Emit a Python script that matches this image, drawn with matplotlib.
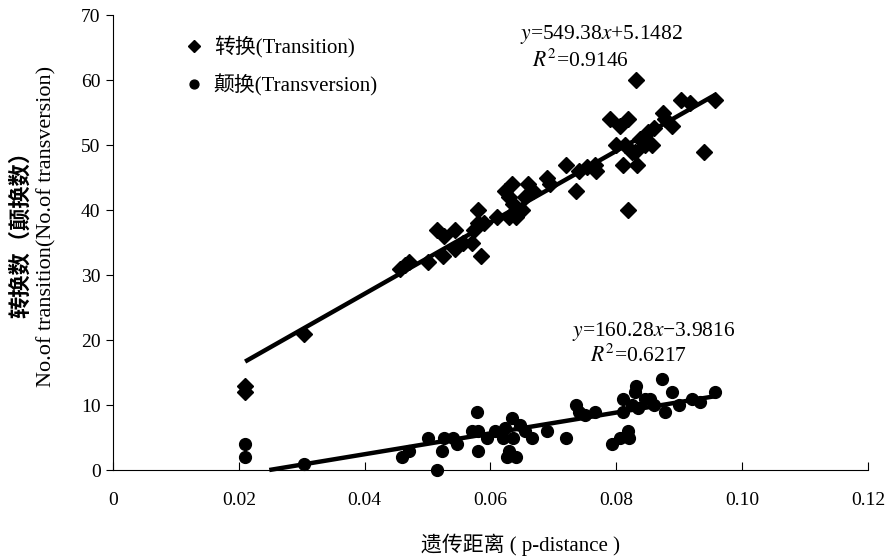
import numpy as np
import matplotlib
matplotlib.use('Agg')
import matplotlib.pyplot as plt

plt.rcParams['font.family'] = ['Liberation Serif', 'Noto Sans CJK SC']
plt.rcParams['mathtext.fontset'] = 'stix'

# transition (diamonds)
ts_x = [0.021, 0.021, 0.0304, 0.0456, 0.0464, 0.047, 0.050, 0.0515, 0.0526, 0.0524,
        0.0544, 0.0544, 0.0556, 0.057, 0.0574, 0.058, 0.058, 0.0585, 0.059, 0.061,
        0.0623, 0.063, 0.063, 0.0634, 0.0636, 0.064, 0.065, 0.0655, 0.066, 0.0668,
        0.069, 0.0695, 0.072, 0.0736, 0.074, 0.0753, 0.0766, 0.0768, 0.079, 0.0806,
        0.081, 0.080, 0.0814, 0.0819, 0.0819, 0.0825, 0.083, 0.0831, 0.0833, 0.0838,
        0.0846, 0.085, 0.0857, 0.086, 0.0874, 0.0877, 0.0888, 0.0903, 0.0917, 0.094,
        0.0957]
ts_y = [13, 12, 21, 31, 31.5, 32, 32, 37, 36, 33,
        34, 37, 35, 35, 37, 38, 40, 33, 38, 39,
        43, 42, 39, 44, 41, 39, 40, 42, 44, 43,
        45, 44, 47, 43, 46, 46.6, 47, 46, 54, 53,
        47, 50, 50, 54, 40, 49, 49, 60, 47, 51,
        50, 52, 50, 52.6, 55, 54, 53, 57, 56.5, 49,
        57]

# transversion (circles)
tv_x = [0.021, 0.021, 0.0304, 0.046, 0.047, 0.050, 0.0515, 0.0523, 0.0526, 0.054,
        0.0547, 0.057, 0.0579, 0.058, 0.058, 0.0595, 0.0607, 0.062, 0.0623, 0.0626,
        0.063, 0.0634, 0.0636, 0.064, 0.0647, 0.0655, 0.0666, 0.069, 0.072, 0.0736,
        0.074, 0.075, 0.0766, 0.0793, 0.0806, 0.081, 0.081, 0.0819, 0.082, 0.0825,
        0.083, 0.0831, 0.0835, 0.0846, 0.0854, 0.086, 0.0873, 0.0877, 0.0888, 0.090,
        0.092, 0.0933, 0.0957]
tv_y = [4, 2, 1, 2, 3, 5, 0, 3, 5, 5,
        4, 6, 9, 6, 3, 5, 6, 5, 6.5, 2,
        3, 8, 5, 2, 7, 6, 5, 6, 5, 10,
        9, 8.5, 9, 4, 5, 9, 11, 6, 5, 10,
        12, 13, 9.5, 11, 11, 10, 14, 9, 12, 10,
        11, 10.5, 12]

fit_range = [0.021, 0.0957]
ts_fit = (549.38, 5.1482)
tv_fit = (160.28, -3.9816)

fig = plt.figure(figsize=(8.94, 5.59), dpi=100)
ax = fig.add_axes([0.1264, 0.1592, 0.8445, 0.8138])

ax.plot(ts_x, ts_y, 'D', color='black', markersize=8.5, clip_on=False,
        label='转换(Transition)')
ax.plot(tv_x, tv_y, 'o', color='black', markersize=8.5, clip_on=False,
        label='颠换(Transversion)')

# trend lines (Excel cuts the transversion line where it meets y=0)
fx = np.array(fit_range)
ax.plot(fx, ts_fit[0] * fx + ts_fit[1], color='black', lw=3.2, solid_capstyle='butt')
fx2 = np.array([max(fit_range[0], -tv_fit[1] / tv_fit[0]), fit_range[1]])
ax.plot(fx2, tv_fit[0] * fx2 + tv_fit[1], color='black', lw=3.2,
        solid_capstyle='butt', clip_on=False)

ax.set_xlim(0, 0.12)
ax.set_ylim(0, 70)
ax.set_xticks(np.arange(0, 0.121, 0.02))
ax.set_xticklabels(['0', '0.02', '0.04', '0.06', '0.08', '0.10', '0.12'])
ax.set_yticks(np.arange(0, 71, 10))
ax.spines['top'].set_visible(False)
ax.spines['right'].set_visible(False)
ax.tick_params(axis='x', direction='in', length=6, pad=16, labelsize=14)
ax.tick_params(axis='y', direction='out', length=5, pad=4, labelsize=14)

ax.text(0.0777, 66.3, r'$y$=549.38$x$+5.1482', fontsize=15.5, ha='center')
ax.text(0.0743, 62.0, r'$R^2$=0.9146', fontsize=15.5, ha='center')
ax.text(0.0860, 20.6, r'$y$=160.28$x$−3.9816', fontsize=15.5, ha='center')
ax.text(0.0835, 16.6, r'$R^2$=0.6217', fontsize=15.5, ha='center')

ax.legend(loc='upper left', bbox_to_anchor=(0.07, 0.995), frameon=False,
          fontsize=15, markerscale=0.75, handlelength=0.9, handletextpad=0.5,
          labelspacing=0.75)

fig.text(0.024, 0.59, '转换数（颠换数）', rotation=90, ha='center', va='center',
         fontsize=16, fontweight='bold')
fig.text(0.052, 0.595, 'No.of transition(No.of transversion)', rotation=90,
         ha='center', va='center', fontsize=16)
fig.text(0.582, 0.025, '遗传距离 ( p-distance )', ha='center', va='center', fontsize=15)

fig.savefig('out.png', dpi=100)
